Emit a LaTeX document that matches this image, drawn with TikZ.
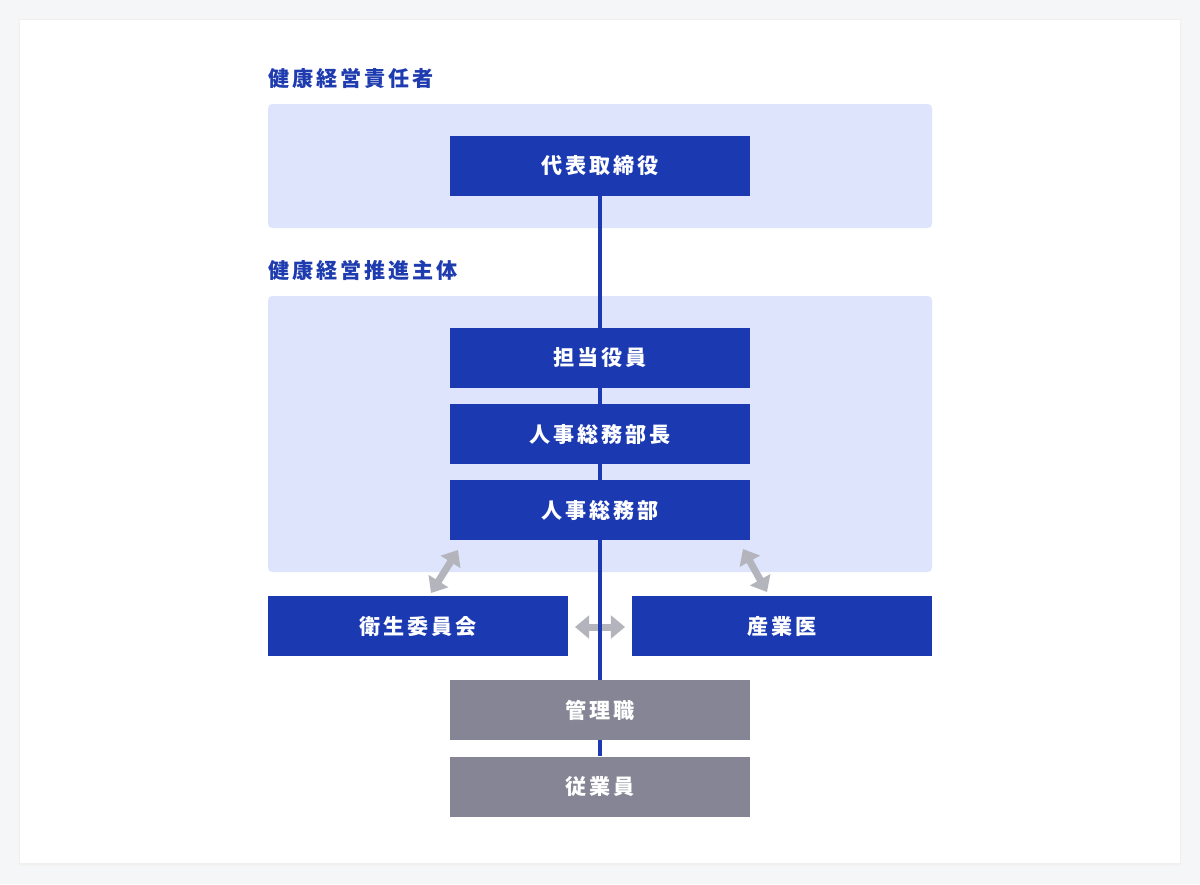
\documentclass[tikz,border=0pt]{standalone}
\usepackage{fontspec}
\setmainfont{Noto Sans CJK JP}[LetterSpace=14]
\usetikzlibrary{positioning,arrows.meta}
\definecolor{pagebg}{RGB}{245,246,248}
\definecolor{panelblue}{RGB}{221,228,252}
\definecolor{mainblue}{RGB}{27,58,178}
\definecolor{titleblue}{RGB}{30,60,175}
\definecolor{staffgray}{RGB}{133,133,150}
\definecolor{arrowgray}{RGB}{180,181,188}
\begin{document}
\begin{tikzpicture}[x=0.025cm, y=-0.025cm, node distance=0.4cm,
                    box/.style={rectangle, fill=mainblue, text=white, font=\bfseries\fontsize{15}{17}\selectfont,
                                minimum width=7.5cm, minimum height=1.5cm, inner sep=0pt},
                    staff box/.style={box, fill=staffgray},
                    panel/.style={fill=panelblue, rounded corners=3pt},
                    group title/.style={anchor=west, inner sep=0pt, text=titleblue, font=\bfseries\fontsize{15}{17}\selectfont},
                    link/.style={draw=mainblue, line width=2.2pt},
                    both way/.style={draw=arrowgray, line width=5pt,
                                     {Triangle[width=16pt,length=10pt]}-{Triangle[width=16pt,length=10pt]}}]
  % page and card
  \useasboundingbox (0,0) rectangle (1200,884);
  \fill[pagebg] (0,0) rectangle (1200,884);
  \fill[black!4] (17,18) rectangle (1183,867);
  \fill[black!6] (19,19) rectangle (1181,865);
  \fill[white] (20,20) rectangle (1180,863);

  % groups
  \fill[panel] (268,104) rectangle (932,228);
  \fill[panel] (268,296) rectangle (932,572);
  \node[group title] (t1) at (268,78) {健康経営責任者};
  \node[group title] (t2) at (268,270) {健康経営推進主体};

  % nodes
  \node[box] (ceo) at (600,166) {代表取締役};
  \node[box] (officer) at (600,358) {担当役員};
  \node[box] (head) at (600,434) {人事総務部長};
  \node[box] (dept) at (600,510) {人事総務部};
  \node[box] (committee) at (418,626) {衛生委員会};
  \node[box] (doctor) at (782,626) {産業医};
  \node[staff box] (manager) at (600,710) {管理職};
  \node[staff box] (staff) [below=of manager] {従業員};

  % two-way arrows
  \coordinate (la) at (458,550);
  \coordinate (lb) at (431,593);
  \coordinate (ra) at (743,549);
  \coordinate (rb) at (767,592);
  \coordinate (ma) at (575,627);
  \coordinate (mb) at (625,627);
  \draw[both way] (la) -- (lb);
  \draw[both way] (ra) -- (rb);
  \draw[both way] (ma) -- (mb);

  % line of command
  \draw[link] (ceo.south) -- (officer.north);
  \draw[link] (officer.south) -- (head.north);
  \draw[link] (head.south) -- (dept.north);
  \draw[link] (dept.south) -- (manager.north);
  \draw[link] (manager.south) -- (staff.north);
\end{tikzpicture}
\end{document}
